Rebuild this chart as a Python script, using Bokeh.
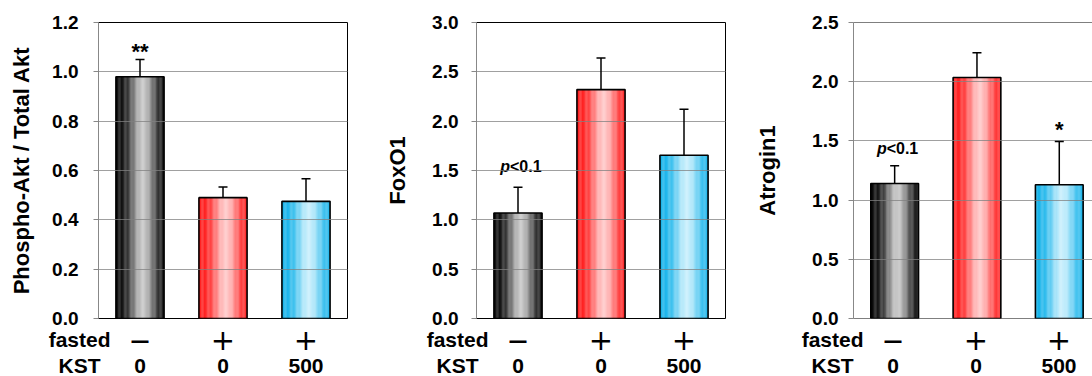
import numpy as np
from bokeh.plotting import figure
from bokeh.layouts import row, column
from bokeh.models import (Range1d, FixedTicker, NumeralTickFormatter, Whisker, TeeHead,
                          Label, ColumnDataSource, Span)
from bokeh.core.properties import value
from bokeh.embed import file_html
from bokeh.resources import INLINE

# ---------------- data ----------------
fasted = ["—", "+", "+"]
kst = ["0", "0", "500"]
row_titles = ["fasted", "KST"]

akt_mean = [0.98, 0.49, 0.475]
akt_sem = [0.07, 0.043, 0.092]
akt_ticks = [0.0, 0.2, 0.4, 0.6, 0.8, 1.0, 1.2]
akt_notes = ["**", "", ""]

foxo1_mean = [1.07, 2.32, 1.655]
foxo1_sem = [0.26, 0.32, 0.465]
foxo1_ticks = [0.0, 0.5, 1.0, 1.5, 2.0, 2.5, 3.0]
foxo1_notes = ["p<0.1", "", ""]

atrogin1_mean = [1.14, 2.035, 1.13]
atrogin1_sem = [0.15, 0.21, 0.365]
atrogin1_ticks = [0.0, 0.5, 1.0, 1.5, 2.0, 2.5]
atrogin1_notes = ["p<0.1", "", "*"]

# ---------------- styles ----------------
bar_edge = ["#050505", "#ff1818", "#12b2ea"]
bar_glow = ["#c6c6c6", "#ffc6c6", "#c6eefc"]
FONT = "Liberation Sans"
SLOT = 83.0        # pixels per category slot
MAIN_H = 330       # main plot canvas height (frame bottom at 318)
STRIP_TOP = 318    # the label strip canvas starts here (overlaps main canvas)
STRIP_H = 376 - STRIP_TOP


def hex2rgb(h):
    h = h.lstrip("#")
    return np.array([int(h[i:i + 2], 16) for i in (0, 2, 4)], dtype=float)


def mix(a, b, t):
    c = hex2rgb(a) * (1 - t) + hex2rgb(b) * t
    return "#%02x%02x%02x" % tuple(int(round(v)) for v in c)


def panel(mean, sem, ticks, notes, ylabel, width, left, right, xend,
          label_standoff, title_standoff, note_offsets, outline=True):
    n = len(mean)
    centers = [i + 0.5 for i in range(n)]
    ymax = ticks[-1]
    p = figure(width=width, height=MAIN_H, output_backend="svg", toolbar_location=None,
               x_range=Range1d(0, xend), y_range=Range1d(0, ymax),
               min_border_left=left, min_border_right=right,
               min_border_top=22, min_border_bottom=MAIN_H - 318,
               x_axis_location=None, frame_align=False)
    p.background_fill_color = "white"
    p.border_fill_color = "white"

    # gradient bars built of thin strips
    bw = 0.58
    N = 40
    xs, tops, cols = [], [], []
    for i in range(n):
        for k in range(N):
            s = (k + 0.5) / N
            g = np.exp(-((s - 0.56) / 0.27) ** 2)
            xs.append(centers[i] - bw / 2 + s * bw)
            tops.append(mean[i])
            cols.append(mix(bar_edge[i], bar_glow[i], g))
    p.vbar(x=xs, top=tops, bottom=0, width=bw / N * 1.15, fill_color=cols,
           line_color=None)
    p.vbar(x=centers, top=mean, bottom=0, width=bw, fill_color=None,
           line_color="black", line_width=1.6)

    # error bars (upper only)
    src = ColumnDataSource(dict(x=centers, lower=mean,
                                upper=[m + s for m, s in zip(mean, sem)]))
    p.add_layout(Whisker(source=src, base="x", lower="lower", upper="upper",
                         dimension="height", line_color="black", line_width=1.5,
                         upper_head=TeeHead(size=9, line_color="black", line_width=1.5),
                         lower_head=None, level="overlay"))

    # grid over bars
    p.xgrid.visible = False
    p.ygrid.ticker = FixedTicker(ticks=ticks)
    p.ygrid.grid_line_color = "#808080"
    p.ygrid.grid_line_alpha = 0.75
    p.ygrid.level = "overlay"

    # y axis
    ax = p.yaxis[0]
    ax.ticker = FixedTicker(ticks=ticks)
    ax.formatter = NumeralTickFormatter(format="0.0")
    ax.major_label_text_font = FONT
    ax.major_label_text_font_style = "bold"
    ax.major_label_text_font_size = "19px"
    ax.major_label_text_color = "black"
    ax.axis_line_color = "#888888"
    ax.major_tick_line_color = "#888888"
    ax.major_tick_out = 5
    ax.major_tick_in = 0
    ax.minor_tick_line_color = None
    ax.major_label_standoff = label_standoff
    ax.axis_label = ylabel
    ax.axis_label_text_font = FONT
    ax.axis_label_text_font_style = "bold"
    ax.axis_label_text_font_size = "22px"
    ax.axis_label_text_color = "black"
    ax.axis_label_standoff = title_standoff

    if outline:
        p.outline_line_color = "black"
        p.outline_line_width = 1
    else:
        p.outline_line_color = None
        p.add_layout(Span(location=ymax, dimension="width", line_color="black", line_width=1))
        p.add_layout(Span(location=0, dimension="width", line_color="black", line_width=1))

    # significance notes
    for i, t in enumerate(notes):
        if not t:
            continue
        top = mean[i] + sem[i]
        if t.startswith("p"):
            p.add_layout(Label(x=centers[i], y=top, x_offset=-8, y_offset=note_offsets[i],
                               text="p", text_align="right", text_baseline="middle",
                               text_font=FONT, text_font_style="bold italic",
                               text_font_size="16px", text_color="black"))
            p.add_layout(Label(x=centers[i], y=top, x_offset=-8, y_offset=note_offsets[i],
                               text=t[1:], text_align="left", text_baseline="middle",
                               text_font=FONT, text_font_style="bold",
                               text_font_size="16px", text_color="black"))
        else:
            p.add_layout(Label(x=centers[i], y=top, y_offset=note_offsets[i],
                               text=t, text_align="center", text_baseline="alphabetic",
                               text_font=FONT, text_font_style="bold",
                               text_font_size="22px", text_color="black"))

    # transparent category label strip, pulled up so it overlaps the main canvas
    lf = figure(width=width, height=STRIP_H, output_backend="svg", toolbar_location=None,
                x_range=Range1d(-left / SLOT, (width - left) / SLOT),
                y_range=Range1d(-STRIP_H, 0), min_border=0,
                x_axis_location=None, y_axis_location=None, frame_align=False,
                margin=(STRIP_TOP - MAIN_H, 0, 0, 0))
    lf.outline_line_color = None
    lf.grid.visible = False
    lf.background_fill_color = None
    lf.border_fill_color = None

    y_f = -(339 - STRIP_TOP)
    y_k = -(365 - STRIP_TOP)
    plus_idx = [i for i in range(n) if fasted[i] == "+"]
    minus_idx = [i for i in range(n) if fasted[i] != "+"]
    lf.text(x=[centers[i] for i in plus_idx], y=[y_f] * len(plus_idx),
            text=[fasted[i] for i in plus_idx], text_align="center",
            text_baseline="middle", text_font=value("DejaVu Sans"),
            text_font_size="29px", text_color="black")
    lf.text(x=[centers[i] for i in minus_idx], y=[y_f] * len(minus_idx),
            text=[fasted[i] for i in minus_idx], text_align="center",
            text_baseline="middle", text_font=value("DejaVu Sans"),
            text_font_style="bold", text_font_size="19px", text_color="black")
    lf.text(x=centers, y=[y_k] * n, text=kst, text_align="center",
            text_baseline="middle", text_font=value(FONT), text_font_style="bold",
            text_font_size="21px", text_color="black")
    lf.text(x=[12 / SLOT, 2 / SLOT], y=[y_f, y_k], text=row_titles, text_align="right",
            text_baseline="middle", text_font=value(FONT), text_font_style="bold",
            text_font_size="21px", text_color="black")
    return column(p, lf, spacing=0)


c1 = panel(akt_mean, akt_sem, akt_ticks, akt_notes, "Phospho-Akt / Total Akt",
           380, 98, 33, 3.0, 15, 15, [8, 0, 0])
c2 = panel(foxo1_mean, foxo1_sem, foxo1_ticks, foxo1_notes, "FoxO1",
           372, 96, 27, 3.0, 13, 19, [21, 0, 0])
c3 = panel(atrogin1_mean, atrogin1_sem, atrogin1_ticks, atrogin1_notes, "Atrogin1",
           340, 99, 0, 241 / SLOT, 10, 29, [17, 0, 12], outline=False)

layout = row(c1, c2, c3, spacing=0)
open("out.html", "w").write(file_html(layout, INLINE))
